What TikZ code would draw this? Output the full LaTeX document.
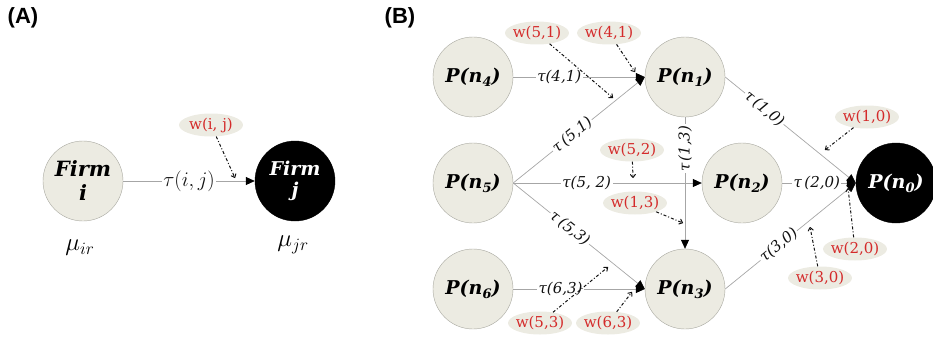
\documentclass[tikz,border=0pt]{standalone}
\usepackage{amsmath,amssymb}
\usepackage{fontspec}
\setmainfont{DejaVu Serif}
\newfontfamily\panelfont{Liberation Sans}
\usetikzlibrary{arrows.meta,shapes.geometric,positioning}
\definecolor{ink}{HTML}{111111}
\definecolor{edgec}{HTML}{A6A6A6}
\definecolor{beige}{HTML}{ECEBE2}
\definecolor{rimc}{HTML}{A8A8A0}
\definecolor{wred}{HTML}{D42A2A}
\newcommand{\pn}[1]{P(n\raisebox{-0.4ex}{\fontsize{13}{13}\selectfont #1})}
\newcommand{\tl}[1]{\textit{τ#1}}
\tikzset{
  firm/.style={circle,draw=rimc,fill=beige,minimum size=80pt,inner sep=0pt,align=center,
    font=\fontsize{19}{21}\selectfont\bfseries\itshape},
  bigfirm/.style={firm,font=\fontsize{21}{24}\selectfont\bfseries\itshape},
  sink/.style={firm,draw=black,fill=black,text=white},
  wgt/.style={ellipse,fill=beige,minimum width=64pt,minimum height=23pt,inner sep=-2pt,
    text=wred,font=\fontsize{15}{15}\selectfont},
  flow/.style={edgec,line width=0.7pt,-{Triangle[color=black,length=9pt,width=8pt]}},
  tlbl/.style={fill=white,inner sep=1.5pt,text=ink,font=\fontsize{15}{15}\selectfont},
  infl/.style={ink,line width=1pt,dash pattern=on 3pt off 2pt on 1pt off 2pt,
    -{To[length=4pt,width=6pt]}},
  plbl/.style={font=\panelfont\bfseries\fontsize{22}{22}\selectfont},
  mulbl/.style={font=\fontsize{24}{24}\selectfont},
}

\begin{document}
\begin{tikzpicture}[x=1pt,y=-1pt]
  \useasboundingbox (0,0) rectangle (933,337);
  % ---------- (A) single link ----------
  \begin{scope}
    \node[plbl] (labA) at (23,18) {(A)};
    \node[bigfirm] (fi) at (83,181) {Firm\\i};
    \node[bigfirm,sink] (fj) at (295,181) {Firm\\j};
    \draw[flow] (fi) -- node[tlbl,pos=0.5,font=\fontsize{21}{21}\selectfont] {$\tau(i,j)$} (fj);
    \node[wgt] (wij) at (211,125) {w(i, j)};
    \coordinate (cij) at (235,178);
    \draw[infl] (wij) -- (cij);
    \node[mulbl] (muir) at (80,248) {$\mu_{ir}$};
    \node[mulbl] (mujr) at (293,245) {$\mu_{jr}$};
  \end{scope}
  % ---------- (B) network ----------
  \begin{scope}
    \node[plbl] (labB) at (400,18) {(B)};
    \node[firm] (n4) at (473,77) {\pn{4}};
    \node[firm] (n5) at (473,183) {\pn{5}};
    \node[firm] (n6) at (473,289) {\pn{6}};
    \node[firm] (n1) at (685,77) {\pn{1}};
    \node[firm] (n2) at (742,183) {\pn{2}};
    \node[firm] (n3) at (685,289) {\pn{3}};
    \node[sink] (n0) at (896,183) {\pn{0}};
    % links
    \draw[flow] (n4.east) -- node[tlbl,pos=0.35] {\tl{(4,1)}} (n1.west);
    \draw[flow] (n5.east) -- node[tlbl,sloped,pos=0.45] {\tl{\,(5,1)}} (n1.west);
    \draw[flow] (n5.east) -- node[tlbl,pos=0.39] {\tl{(5, 2)}} (n2.west);
    \draw[flow] (n5.east) -- node[tlbl,sloped,pos=0.43] {\tl{\,(5,3)}} (n3.west);
    \draw[flow] (n6.east) -- node[tlbl,pos=0.36] {\tl{(6,3)}} (n3.west);
    \draw[flow] (n1.south) -- node[tlbl,rotate=90,pos=0.24] {\tl{\,(1,3)}} (n3.north);
    \draw[flow] (n1.east) -- node[tlbl,sloped,pos=0.3] {\tl{\,(1,0)}} (n0.west);
    \draw[flow] (n2.east) -- node[tlbl,pos=0.47] {\tl{\,(2,0)}} (n0.west);
    \draw[flow] (n3.east) -- node[tlbl,sloped,pos=0.41] {\tl{(3,0)}} (n0.west);
    % weights
    \node[wgt] (w51) at (537,33) {w(5,1)};
    \node[wgt] (w41) at (609,33) {w(4,1)};
    \node[wgt] (w52) at (632,150) {w(5,2)};
    \node[wgt] (w13) at (635,203) {w(1,3)};
    \node[wgt] (w10) at (867,117) {w(1,0)};
    \node[wgt] (w20) at (855,249) {w(2,0)};
    \node[wgt] (w30) at (820,278) {w(3,0)};
    \node[wgt] (w53) at (540,323) {w(5,3)};
    \node[wgt] (w63) at (608,323) {w(6,3)};
    \coordinate (c51) at (613,98);
    \coordinate (c41) at (635,72);
    \coordinate (c52) at (633,178);
    \coordinate (c13) at (683,223);
    \coordinate (c10) at (825,150);
    \coordinate (c20) at (848,188);
    \coordinate (c30) at (810,227);
    \coordinate (c53) at (608,267);
    \coordinate (c63) at (632,292);
    \draw[infl] (w51) -- (c51);
    \draw[infl] (w41) -- (c41);
    \draw[infl] (w52) -- (c52);
    \draw[infl] (w13) -- (c13);
    \draw[infl] (w10) -- (c10);
    \draw[infl] (w20) -- (c20);
    \draw[infl] (w30) -- (c30);
    \draw[infl] (w53) -- (c53);
    \draw[infl] (w63) -- (c63);
  \end{scope}
\end{tikzpicture}
\end{document}
